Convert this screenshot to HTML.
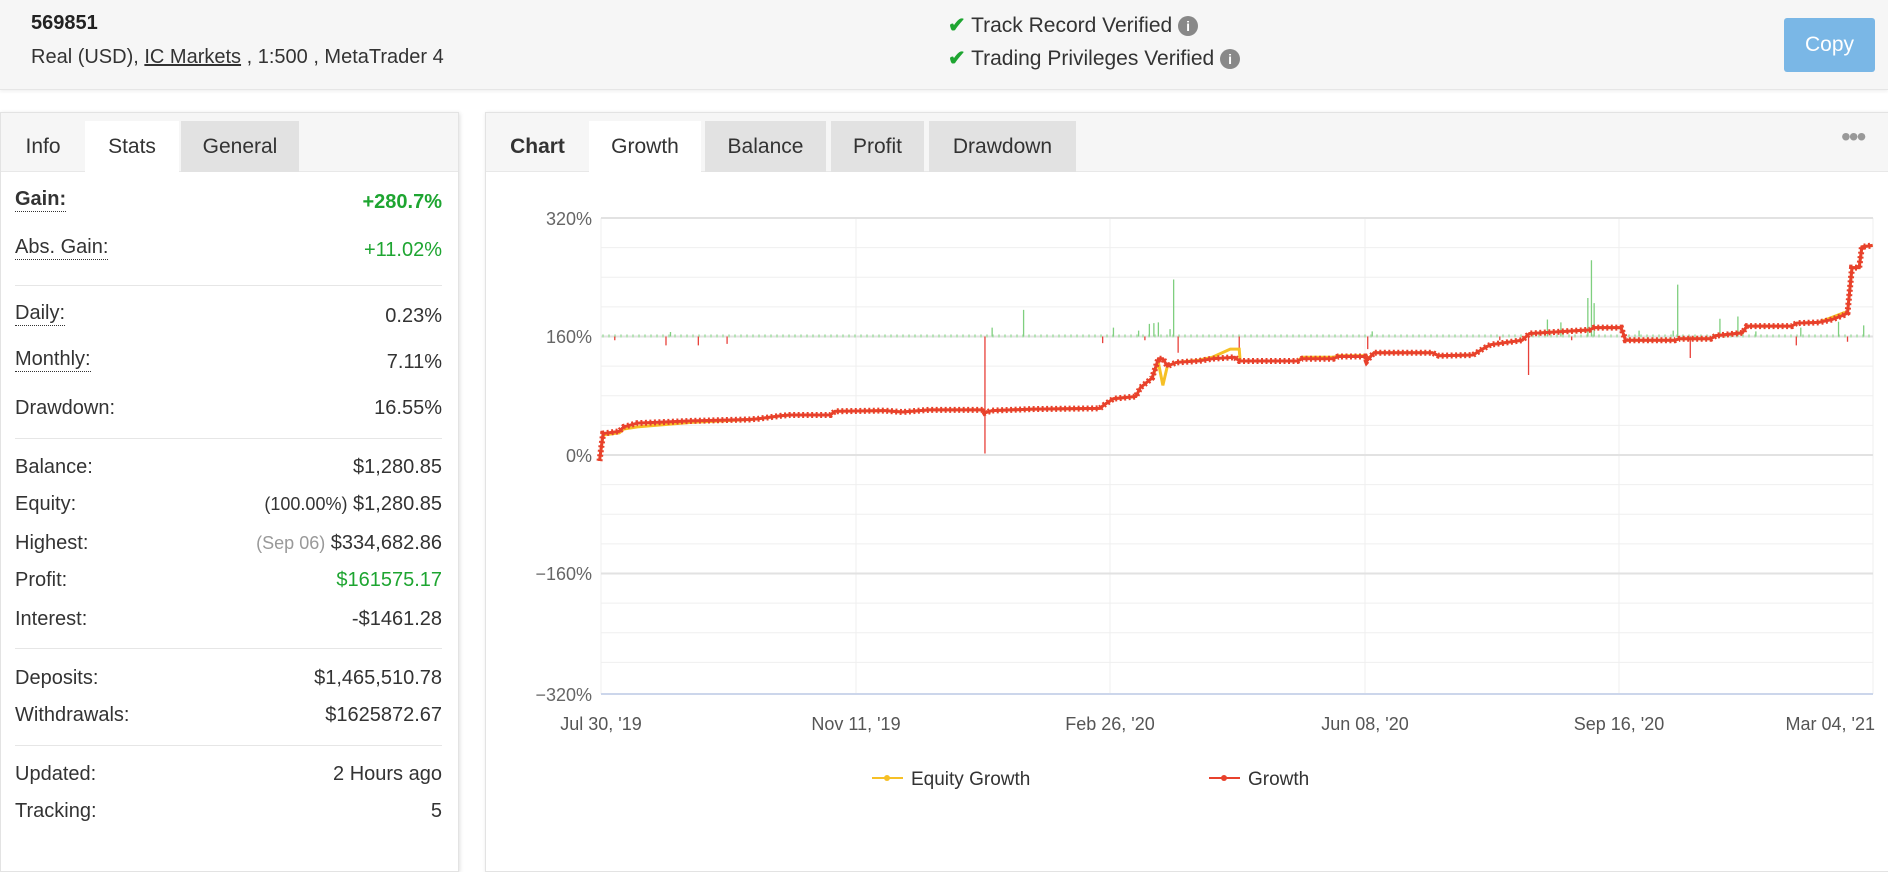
<!DOCTYPE html>
<html><head><meta charset="utf-8">
<style>
*{box-sizing:border-box;margin:0;padding:0}
body{width:1888px;height:855px;overflow:hidden;background:#fff;font-family:"Liberation Sans",Arial,sans-serif;color:#333;position:relative}
.hdr{position:absolute;left:0;top:0;width:1888px;height:90px;background:#f6f6f6;border-bottom:1px solid #e6e6e6;box-shadow:0 2px 3px rgba(0,0,0,0.05)}
.abs{position:absolute;white-space:nowrap}
.panel{position:absolute;top:112px;background:#fff;border:1px solid #e3e3e3;box-shadow:1px 1px 4px rgba(0,0,0,0.12)}
.tabs{position:absolute;left:0;top:0;right:0;height:59px;background:#f6f6f6;border-bottom:1px solid #e8e8e8}
.tab{position:absolute;top:8px;height:51px;line-height:51px;font-size:21px;text-align:center;color:#333}
.row{position:absolute;left:14px;width:427px;font-size:20px;height:30px;line-height:30px}
.row .l{position:absolute;left:0}
.row .l.u{border-bottom:1px dotted #333;line-height:24px}
.row .r{position:absolute;right:0}
.sep{position:absolute;left:14px;width:427px;height:1px;background:#e6e6e6}
.g{color:#1ea531}
</style></head><body>
<div class="hdr">
 <div class="abs" style="left:31px;top:12px;font-size:20px;font-weight:bold;color:#222">569851</div>
 <div class="abs" style="left:31px;top:46px;font-size:20px;color:#333">Real (USD), <span style="text-decoration:underline">IC Markets</span> , 1:500 , MetaTrader 4</div>
 <div class="abs" style="left:948px;top:13px;font-size:21px;color:#333"><span style="color:#1ea531;font-weight:bold">✔</span> Track Record Verified <span style="display:inline-block;width:20px;height:20px;border-radius:50%;background:#888;color:#fff;font-size:14px;line-height:20px;text-align:center;font-weight:bold;vertical-align:1px">i</span></div>
 <div class="abs" style="left:948px;top:46px;font-size:21px;color:#333"><span style="color:#1ea531;font-weight:bold">✔</span> Trading Privileges Verified <span style="display:inline-block;width:20px;height:20px;border-radius:50%;background:#888;color:#fff;font-size:14px;line-height:20px;text-align:center;font-weight:bold;vertical-align:1px">i</span></div>
 <div class="abs" style="left:1784px;top:18px;width:91px;height:54px;background:#7ab7e6;border-radius:3px;color:#fff;font-size:21px;line-height:54px;text-align:center">Copy</div>
</div>

<div class="panel" style="left:0;width:459px;height:760px">
 <div class="tabs">
  <div class="tab" style="left:0;width:84px;font-weight:normal">Info</div>
  <div class="tab" style="left:84px;width:94px;background:#fff;height:52px">Stats</div>
  <div class="tab" style="left:180px;width:118px;background:#e2e2e2">General</div>
 </div>
 <div class="row" style="top:74px"><span class="l u" style="font-weight:bold">Gain:</span><span class="r g" style="font-weight:bold">+280.7%</span></div>
 <div class="row" style="top:122px"><span class="l u">Abs. Gain:</span><span class="r g">+11.02%</span></div>
 <div class="sep" style="top:172px"></div>
 <div class="row" style="top:188px"><span class="l u">Daily:</span><span class="r">0.23%</span></div>
 <div class="row" style="top:234px"><span class="l u">Monthly:</span><span class="r">7.11%</span></div>
 <div class="row" style="top:280px"><span class="l">Drawdown:</span><span class="r">16.55%</span></div>
 <div class="sep" style="top:325px"></div>
 <div class="row" style="top:339px"><span class="l">Balance:</span><span class="r">$1,280.85</span></div>
 <div class="row" style="top:376px"><span class="l">Equity:</span><span class="r"><span style="font-size:18px">(100.00%)</span> $1,280.85</span></div>
 <div class="row" style="top:415px"><span class="l">Highest:</span><span class="r"><span style="font-size:18px;color:#999">(Sep 06)</span> $334,682.86</span></div>
 <div class="row" style="top:452px"><span class="l">Profit:</span><span class="r g">$161575.17</span></div>
 <div class="row" style="top:491px"><span class="l">Interest:</span><span class="r">-$1461.28</span></div>
 <div class="sep" style="top:535px"></div>
 <div class="row" style="top:550px"><span class="l">Deposits:</span><span class="r">$1,465,510.78</span></div>
 <div class="row" style="top:587px"><span class="l">Withdrawals:</span><span class="r">$1625872.67</span></div>
 <div class="sep" style="top:632px"></div>
 <div class="row" style="top:646px"><span class="l">Updated:</span><span class="r">2 Hours ago</span></div>
 <div class="row" style="top:683px"><span class="l">Tracking:</span><span class="r">5</span></div>
</div>

<div class="panel" style="left:485px;width:1410px;height:760px">
 <div class="tabs">
  <div class="tab" style="left:0;width:103px;font-weight:bold">Chart</div>
  <div class="tab" style="left:103px;width:112px;background:#fff;height:52px">Growth</div>
  <div class="tab" style="left:219px;width:121px;background:#e2e2e2">Balance</div>
  <div class="tab" style="left:345px;width:93px;background:#e2e2e2">Profit</div>
  <div class="tab" style="left:443px;width:147px;background:#e2e2e2">Drawdown</div>
  <div class="abs" style="left:1355px;top:8px;font-size:28px;color:#999;letter-spacing:-2px">•••</div>
 </div>
</div>

<svg class="abs" style="left:0;top:0" width="1888" height="855">
 <g stroke="#efefef" stroke-width="1">
  <line x1="601" x2="1873" y1="247.6" y2="247.6"/><line x1="601" x2="1873" y1="277.2" y2="277.2"/><line x1="601" x2="1873" y1="306.9" y2="306.9"/>
  <line x1="601" x2="1873" y1="366.1" y2="366.1"/><line x1="601" x2="1873" y1="395.8" y2="395.8"/><line x1="601" x2="1873" y1="425.4" y2="425.4"/>
  <line x1="601" x2="1873" y1="484.6" y2="484.6"/><line x1="601" x2="1873" y1="514.2" y2="514.2"/><line x1="601" x2="1873" y1="543.9" y2="543.9"/>
  <line x1="601" x2="1873" y1="603.1" y2="603.1"/><line x1="601" x2="1873" y1="632.8" y2="632.8"/><line x1="601" x2="1873" y1="662.4" y2="662.4"/>
  <line x1="601" x2="601" y1="218" y2="694"/><line x1="856" x2="856" y1="218" y2="694"/><line x1="1110" x2="1110" y1="218" y2="694"/>
  <line x1="1365" x2="1365" y1="218" y2="694"/><line x1="1619" x2="1619" y1="218" y2="694"/><line x1="1873" x2="1873" y1="218" y2="694"/>
 </g>
 <g stroke="#e2e2e2" stroke-width="2">
  <line x1="601" x2="1873" y1="218" y2="218"/><line x1="601" x2="1873" y1="336.5" y2="336.5"/><line x1="601" x2="1873" y1="455" y2="455"/><line x1="601" x2="1873" y1="573.5" y2="573.5"/>
 </g>
 <line x1="601" x2="1873" y1="694" y2="694" stroke="#ccd6eb" stroke-width="2"/>
 <g font-size="18" fill="#666" text-anchor="end">
  <text x="592" y="225">320%</text><text x="592" y="343">160%</text><text x="592" y="462">0%</text><text x="592" y="580">−160%</text><text x="592" y="701">−320%</text>
 </g>
 <g font-size="18" fill="#555" text-anchor="middle">
  <text x="601" y="730">Jul 30, '19</text><text x="856" y="730">Nov 11, '19</text><text x="1110" y="730">Feb 26, '20</text><text x="1365" y="730">Jun 08, '20</text><text x="1619" y="730">Sep 16, '20</text><text x="1875" y="730" text-anchor="end">Mar 04, '21</text>
 </g>
 <line x1="602" x2="1872" y1="336" y2="336" stroke="#b5e2b5" stroke-width="3" stroke-dasharray="2 4"/>
 <g transform="translate(480,455) scale(0.8985,-0.7406)">
  <g stroke="#7fcf7f" fill="none">
   <path vector-effect="non-scaling-stroke" stroke-width="1.3" d="M605 160V196M772 160V237M1237 160V263M1233 160V212M1240 160V205M1333 160V230M1380 160V184M1400 160V187M1188 160V183M1203 160V179M570 160V172M705 160V172M745 160V177M750 160V178M755 160V179M1540 160V175M1512 160V180M733 160V168M768 160V170M993 160V167M1470 160V172M1290 160V168M212 160V166M1328 160V168M1420 160V167"/>
  </g>
  <g stroke="#e8413a" fill="none">
   <path vector-effect="non-scaling-stroke" stroke-width="1.3" d="M562 160V2M1167 160V108M777 160V138M1347 160V131M207 160V148M243 160V148M275 160V150M1465 160V148M988 160V143M1215 160V155M693 160V151M1522 160V153M845 160V140M150 160V155M740 160V155M1135 160V155"/>
  </g>
  <polyline vector-effect="non-scaling-stroke" fill="none" stroke="#f6c026" stroke-width="3" points="133,-8 137,27 155,30 160,35 175,38 235,44 300,48 310,49 335,53 345,54 390,54 395,59 450,60 470,58 500,61 560,61 562,57 570,60 615,62 690,63 695,68 705,76 730,79 735,91 748,104 755,125 760,94 765,120 775,125 800,128 815,132 835,143 845,143 846,127 910,127 915,132 950,132 955,134 985,134 987,128 995,138 1060,138 1067,134 1105,135 1120,146 1125,149 1160,155 1168,164 1235,169 1240,172 1270,172 1275,155 1330,155 1335,157 1370,157 1375,161 1405,165 1410,174 1460,174 1465,178 1490,179 1505,186 1518,192 1522,192 1527,253 1535,253 1538,281 1550,283"/>
  <polyline vector-effect="non-scaling-stroke" fill="none" stroke="#e8412c" stroke-width="3" points="133,-8 137,29 155,32 160,38 175,43 235,46 300,48 310,49 335,53 345,54 390,54 395,59 450,60 470,58 500,61 560,61 562,57 570,60 615,62 690,63 695,68 705,76 730,79 735,91 748,104 755,130 760,130 765,120 775,125 800,127 815,130 840,132 845,127 910,127 915,130 950,130 955,133 985,133 987,127 995,138 1060,138 1067,134 1105,135 1120,146 1125,149 1160,155 1168,164 1235,169 1240,172 1270,172 1275,155 1330,155 1335,157 1370,157 1375,161 1405,165 1410,174 1460,174 1465,178 1490,179 1505,183 1518,189 1522,192 1527,253 1535,253 1538,281 1550,283"/>
  <polyline vector-effect="non-scaling-stroke" fill="none" stroke="#e8412c" stroke-width="6" stroke-dasharray="2 2.5" points="133,-8 137,29 155,32 160,38 175,43 235,46 300,48 310,49 335,53 345,54 390,54 395,59 450,60 470,58 500,61 560,61 562,57 570,60 615,62 690,63 695,68 705,76 730,79 735,91 748,104 755,130 760,130 765,120 775,125 800,127 815,130 840,132 845,127 910,127 915,130 950,130 955,133 985,133 987,127 995,138 1060,138 1067,134 1105,135 1120,146 1125,149 1160,155 1168,164 1235,169 1240,172 1270,172 1275,155 1330,155 1335,157 1370,157 1375,161 1405,165 1410,174 1460,174 1465,178 1490,179 1505,183 1518,189 1522,192 1527,253 1535,253 1538,281 1550,283"/>
 </g>
 <line x1="872" x2="903" y1="778" y2="778" stroke="#f6c026" stroke-width="2"/><circle cx="887" cy="778" r="3" fill="#f6c026"/>
 <text x="911" y="785" font-size="19" fill="#333">Equity Growth</text>
 <line x1="1209" x2="1240" y1="778" y2="778" stroke="#e8412c" stroke-width="2"/><circle cx="1224" cy="778" r="3" fill="#e8412c"/>
 <text x="1248" y="785" font-size="19" fill="#333">Growth</text>
</svg>
</body></html>
